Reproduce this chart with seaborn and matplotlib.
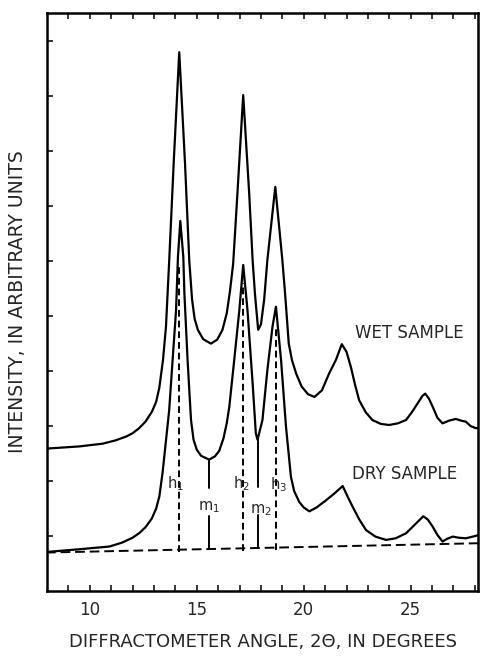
import numpy as np
import pandas as pd
import matplotlib
matplotlib.use("Agg")
import matplotlib.pyplot as plt
import seaborn as sns

# ---- data ----
wet_x = [7.95, 9.5, 10.6, 11.2, 11.7, 12.0, 12.3, 12.6, 12.9, 13.1, 13.25, 13.42, 13.56, 13.71,
         13.92, 14.18,
         14.45, 14.65, 14.78, 14.9, 15.05, 15.3, 15.66, 15.95, 16.2, 16.4, 16.55, 16.7, 16.9, 17.17,
         17.45, 17.61, 17.72, 17.87, 18.0, 18.15, 18.3, 18.67, 19.0, 19.12, 19.3, 19.45, 19.65,
         19.9, 20.2, 20.5, 20.85, 21.19, 21.5, 21.78, 22.0, 22.2, 22.4, 22.59, 22.9, 23.21, 23.6,
         23.99, 24.4, 24.78, 25.05, 25.32, 25.55, 25.68, 25.85, 26.03, 26.25, 26.49, 26.8, 27.11,
         27.35, 27.58, 27.8, 28.05, 28.2]
wet_y = [2.59, 2.63, 2.68, 2.74, 2.81, 2.87, 2.96, 3.08, 3.26, 3.44, 3.7, 4.2, 4.81, 6.0,
         7.78, 9.8,
         7.78, 6.0, 5.3, 4.95, 4.75, 4.58, 4.5, 4.57, 4.75, 5.05, 5.45, 5.95, 7.23, 9.02,
         7.23, 6.02, 5.4, 4.75, 4.85, 5.3, 6.02, 7.35, 6.02, 5.45, 4.5, 4.2, 3.95,
         3.72, 3.58, 3.53, 3.65, 3.96, 4.2, 4.49, 4.35, 4.08, 3.75, 3.47, 3.25, 3.11, 3.04,
         3.02, 3.05, 3.11, 3.25, 3.41, 3.55, 3.59, 3.5, 3.35, 3.15, 3.05, 3.1, 3.13,
         3.1, 3.08, 3.0, 2.96, 2.98]

dry_x = [7.95, 9.5, 10.92, 11.5, 12.0, 12.33, 12.6, 12.9, 13.1, 13.25, 13.4, 13.55, 13.71, 13.87,
         14.03, 14.12, 14.23, 14.37, 14.42, 14.57, 14.73, 14.85, 15.0, 15.2, 15.58, 15.85, 16.05,
         16.25, 16.4, 16.52, 16.75, 16.99, 17.17, 17.37, 17.61, 17.76, 17.84, 18.07, 18.3, 18.54,
         18.7, 18.94, 19.17, 19.4, 19.55, 19.79, 20.0, 20.26, 20.6, 21.04, 21.45, 21.82, 22.05,
         22.29, 22.6, 22.91, 23.35, 23.85, 24.3, 24.78, 25.25, 25.59, 25.8, 26.03, 26.25, 26.49,
         26.7, 26.96, 27.25, 27.58, 27.9, 28.2]
dry_y = [0.71, 0.76, 0.81, 0.88, 0.97, 1.06, 1.16, 1.32, 1.5, 1.72, 2.15, 2.7, 3.29, 4.2,
         5.1, 6.08, 6.73, 6.08, 5.42, 4.2, 3.11, 2.75, 2.57, 2.46, 2.39, 2.45, 2.55,
         2.78, 3.05, 3.35, 4.2, 5.11, 5.93, 5.11, 3.78, 2.87, 2.75, 3.11, 4.02, 4.81,
         5.17, 4.2, 2.99, 2.08, 1.82, 1.62, 1.52, 1.45, 1.52, 1.65, 1.78, 1.91, 1.72,
         1.53, 1.3, 1.11, 0.99, 0.93, 0.96, 1.05, 1.23, 1.36, 1.3, 1.17, 1.02, 0.9,
         0.95, 0.99, 0.97, 0.96, 0.99, 1.02]

base_x = [7.95, 28.2]
base_y = [0.70, 0.87]

h_x = [14.18, 17.17, 18.7]
h_top = [5.95, 5.6, 4.8]
h_labels = [r"$\mathrm{h}_1$", r"$\mathrm{h}_2$", r"$\mathrm{h}_3$"]
h_label_x = [14.0, 17.1, 18.82]
h_label_y = [1.95, 1.95, 1.93]

m_x = [15.58, 17.84]
m_top = [2.39, 2.75]
m_gap_hi = [1.87, 1.9]
m_gap_lo = [1.36, 1.38]
m_labels = [r"$\mathrm{m}_1$", r"$\mathrm{m}_2$"]
m_label_x = [15.58, 18.0]
m_label_y = [1.53, 1.47]

x_ticks = [10, 15, 20, 25]
sample_labels = ["WET SAMPLE", "DRY SAMPLE"]
sample_label_x = [24.93, 24.69]
sample_label_y = [4.70, 2.13]

# ---- plotting ----
sns.set_style("white")
plt.rcParams['font.family'] = ['DejaVu Sans']

fig = plt.figure(figsize=(4.8, 6.56), dpi=100)
ax = fig.add_axes([0.098, 0.099, 0.898, 0.881])

lw = 1.6
wet = pd.DataFrame({"x": wet_x, "y": wet_y})
dry = pd.DataFrame({"x": dry_x, "y": dry_y})
base = pd.DataFrame({"x": base_x, "y": base_y})

sns.lineplot(data=wet, x="x", y="y", ax=ax, color="black", lw=lw, sort=False, estimator=None)
sns.lineplot(data=dry, x="x", y="y", ax=ax, color="black", lw=lw, sort=False, estimator=None)
sns.lineplot(data=base, x="x", y="y", ax=ax, color="black", lw=1.4, sort=False,
             estimator=None, linestyle=(0, (5, 2.5)))

for xv, top in zip(h_x, h_top):
    b = np.interp(xv, base_x, base_y)
    ax.plot([xv, xv], [b - 0.05, top], color="black", lw=1.4, linestyle=(0, (3.5, 2)))
for xv, top, hi, lo in zip(m_x, m_top, m_gap_hi, m_gap_lo):
    b = np.interp(xv, base_x, base_y)
    ax.plot([xv, xv], [top, hi], color="black", lw=1.4)
    ax.plot([xv, xv], [lo, b], color="black", lw=1.4)

for t, xv, yv in zip(h_labels, h_label_x, h_label_y):
    ax.text(xv, yv, t, ha="center", va="center", fontsize=10.5)
for t, xv, yv in zip(m_labels, m_label_x, m_label_y):
    ax.text(xv, yv, t, ha="center", va="center", fontsize=10.5)
for t, xv, yv in zip(sample_labels, sample_label_x, sample_label_y):
    ax.text(xv, yv, t, ha="center", va="center", fontsize=12)

ax.set_xlim(8, 28.15)
ax.set_ylim(0, 10.51)
ax.set_xticks(x_ticks)
ax.set_xticks(np.arange(9, 29, 1), minor=True)
ax.set_yticks(np.arange(1, 11, 1))
ax.set_yticklabels([])
ax.tick_params(axis="x", which="both", direction="in", top=True, bottom=True,
               length=4, width=1.3, labelsize=12, pad=7)
ax.tick_params(axis="y", which="both", direction="in", left=True, right=False,
               length=4, width=1.3)
for s in ax.spines.values():
    s.set_visible(True)
    s.set_linewidth(1.8)
    s.set_color("black")

ax.set_xlabel("DIFFRACTOMETER ANGLE, 2Θ, IN DEGREES", fontsize=13, labelpad=10)
ax.set_ylabel("INTENSITY, IN ARBITRARY UNITS", fontsize=13.5, labelpad=11)

fig.savefig("out.png", dpi=100)
